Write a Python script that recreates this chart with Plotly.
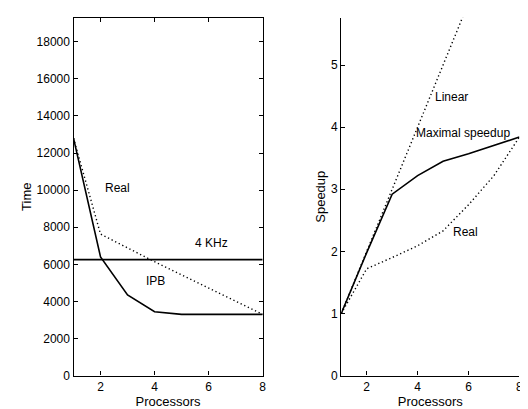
import plotly.graph_objects as go

# ---- data ----
proc_ipb = [1, 2, 3, 4, 5, 6, 8]
time_ipb = [12800, 6400, 4350, 3440, 3300, 3300, 3300]
proc_real_t = [1, 2, 4, 8]
time_real = [12800, 7630, 6140, 3300]
khz_x = [1, 8]
khz_y = [6250, 6250]

proc_lin = [1, 2, 3, 4, 5, 6, 7, 8]
speed_lin = [1, 2, 3, 4, 5, 6, 7, 8]
proc_max = [1, 2, 3, 4, 5, 6, 8]
speed_max = [1.0, 1.98, 2.92, 3.22, 3.45, 3.57, 3.84]
proc_real_s = [1, 2, 3, 4, 5, 6, 7, 8]
speed_real = [1.0, 1.72, 1.9, 2.09, 2.33, 2.75, 3.22, 3.84]

time_ticks = [0, 2000, 4000, 6000, 8000, 10000, 12000, 14000, 16000, 18000]
speed_ticks = [0, 1, 2, 3, 4, 5]
proc_ticks = [2, 4, 6, 8]

FONT = "Liberation Sans, Arial, sans-serif"
blk = "black"
DOT = "1.3px,2.7px"

fig = go.Figure()
fig.add_trace(go.Scatter(x=proc_ipb, y=time_ipb, mode="lines",
                         line=dict(color=blk, width=1.6), xaxis="x", yaxis="y"))
fig.add_trace(go.Scatter(x=proc_real_t, y=time_real, mode="lines",
                         line=dict(color=blk, width=1.4, dash=DOT), xaxis="x", yaxis="y"))
fig.add_trace(go.Scatter(x=khz_x, y=khz_y, mode="lines",
                         line=dict(color=blk, width=1.6), xaxis="x", yaxis="y"))

fig.add_trace(go.Scatter(x=proc_lin, y=speed_lin, mode="lines",
                         line=dict(color=blk, width=1.4, dash=DOT), xaxis="x2", yaxis="y2"))
fig.add_trace(go.Scatter(x=proc_max, y=speed_max, mode="lines",
                         line=dict(color=blk, width=1.6), xaxis="x2", yaxis="y2"))
fig.add_trace(go.Scatter(x=proc_real_s, y=speed_real, mode="lines",
                         line=dict(color=blk, width=1.4, dash=DOT), xaxis="x2", yaxis="y2"))

ax_common = dict(showgrid=False, zeroline=False, ticks="inside", ticklen=4,
                 tickcolor=blk, linecolor=blk, linewidth=1.3, showline=True,
                 tickfont=dict(family=FONT, size=12, color=blk))

fig.update_layout(
    width=528, height=409,
    margin=dict(l=0, r=0, t=0, b=0),
    paper_bgcolor="white", plot_bgcolor="white",
    showlegend=False,
    font=dict(family=FONT, size=12, color=blk),
    xaxis=dict(domain=[0.125, 0.486], range=[1, 8], tickvals=proc_ticks,
               mirror="ticks", anchor="y",
               title=dict(text="Processors", standoff=0, font=dict(size=13)), **ax_common),
    yaxis=dict(domain=[0.0856, 0.9756], range=[0, 19290], tickvals=time_ticks,
               tickformat="d", mirror="ticks", anchor="x",
               title=dict(text="Time", standoff=2, font=dict(size=13)), **ax_common),
    xaxis2=dict(domain=[0.636, 0.976], range=[1, 8], tickvals=proc_ticks,
                anchor="y2",
                title=dict(text="Processors", standoff=0, font=dict(size=13)), **ax_common),
    yaxis2=dict(domain=[0.0856, 0.9756], range=[0, 5.76], tickvals=speed_ticks,
                anchor="x2",
                title=dict(text="Speedup", standoff=2, font=dict(size=13)), **ax_common),
)

ann = [
    ("x", "y", 2.62, 10140, "Real"),
    ("x", "y", 6.1, 7150, "4 KHz"),
    ("x", "y", 4.03, 5080, "IPB"),
    ("x2", "y2", 5.34, 4.49, "Linear"),
    ("x2", "y2", 5.78, 3.91, "Maximal speedup"),
    ("x2", "y2", 5.9, 2.31, "Real"),
]
for xr, yr, x, y, t in ann:
    fig.add_annotation(x=x, y=y, xref=xr, yref=yr, text=t, showarrow=False,
                       font=dict(family=FONT, size=12, color=blk), bgcolor="rgba(0,0,0,0)")

fig.write_html("out.html")
